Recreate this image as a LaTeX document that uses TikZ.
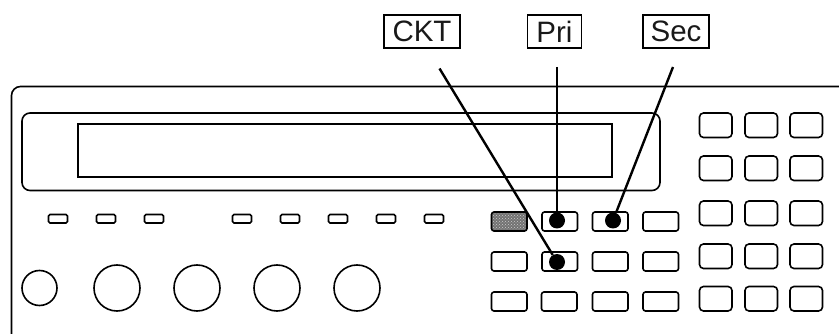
\documentclass[tikz,border=0pt]{standalone}
\usepackage{fontspec}
\setmainfont{Liberation Sans}
\usepackage{xcolor}
\usetikzlibrary{patterns}

\tikzset{
    panelline/.style = {line width = 1.6pt, black},
    smallkey/.style = {panelline, rounded corners = 2.5pt},
    padkey/.style = {panelline, rounded corners = 4pt},
    lamp/.style = {panelline, rounded corners = 1.5pt},
    keylabel/.style = {draw, line width = 1.6pt, inner sep = 0pt, minimum height = 33.5pt,
        font = \fontsize{29.5}{29.5}\selectfont, text = black!90},
    pressdot/.style = {circle, fill = black, inner sep = 0pt, minimum size = 16pt},
    leader/.style = {line width = 2.4pt, black}
}

\begin{document}
\begin{tikzpicture}[x = 1pt, y = -1pt]
    \useasboundingbox (0, 0) rectangle (839, 334);

    % case and display
    \draw[panelline, rounded corners = 9pt] (11.5, 334) -- (11.5, 86.5) -- (845, 86.5);
    \draw[panelline, rounded corners = 8pt] (22, 113) rectangle (660, 190.5);
    \draw[panelline] (78, 124) rectangle (612, 177);

    % lamps
    \foreach \x in {58, 106, 154, 242, 290, 338, 386, 434}
        \draw[lamp] (\x - 9.5, 214.5) rectangle (\x + 9.5, 223);

    % knobs
    \draw[panelline] (39.5, 288) circle (17.5);
    \foreach \x in {117, 197, 277, 357}
        \draw[panelline] (\x, 288) circle (23);

    % middle keys
    \draw[smallkey, preaction = {fill = black!55}, pattern = crosshatch dots, pattern color = black!20] (491.5, 212) rectangle (527, 231);
    \foreach \x in {542, 592.5, 643} {
        \draw[smallkey] (\x, 212) rectangle (\x + 35.5, 231);
    }
    \foreach \x in {491.5, 542, 592.5, 643} {
        \draw[smallkey] (\x, 252) rectangle (\x + 35.5, 271);
    }
    \foreach \x in {491.5, 541.5, 592.5, 643} {
        \draw[smallkey] (\x, 292) rectangle (\x + 35.5, 311);
    }

    % keypad
    \foreach \y in {113, 156, 201, 244, 286.5} {
        \foreach \x in {699.5, 745, 790} {
            \draw[padkey] (\x, \y) rectangle (\x + 32.5, \y + 24.5);
        }
    }

    % labels
    \node[keylabel, minimum width = 76pt] (ckt) at (422, 31.5) {CKT};
    \node[keylabel, minimum width = 54pt] (pri) at (554.5, 31.5) {Pri};
    \node[keylabel, minimum width = 66pt] (sec) at (676, 31.5) {Sec};

    \node[pressdot] (ckt key) at (557, 262) {};
    \node[pressdot] (pri key) at (557, 220.5) {};
    \node[pressdot] (sec key) at (613, 220.5) {};

    \coordinate (ckt end) at (439.5, 68.5);
    \coordinate (pri end) at (557, 67);
    \coordinate (sec end) at (673, 67);

    \draw[leader] (ckt end) -- (ckt key);
    \draw[leader] (pri end) -- (pri key);
    \draw[leader] (sec end) -- (sec key);
\end{tikzpicture}
\end{document}
